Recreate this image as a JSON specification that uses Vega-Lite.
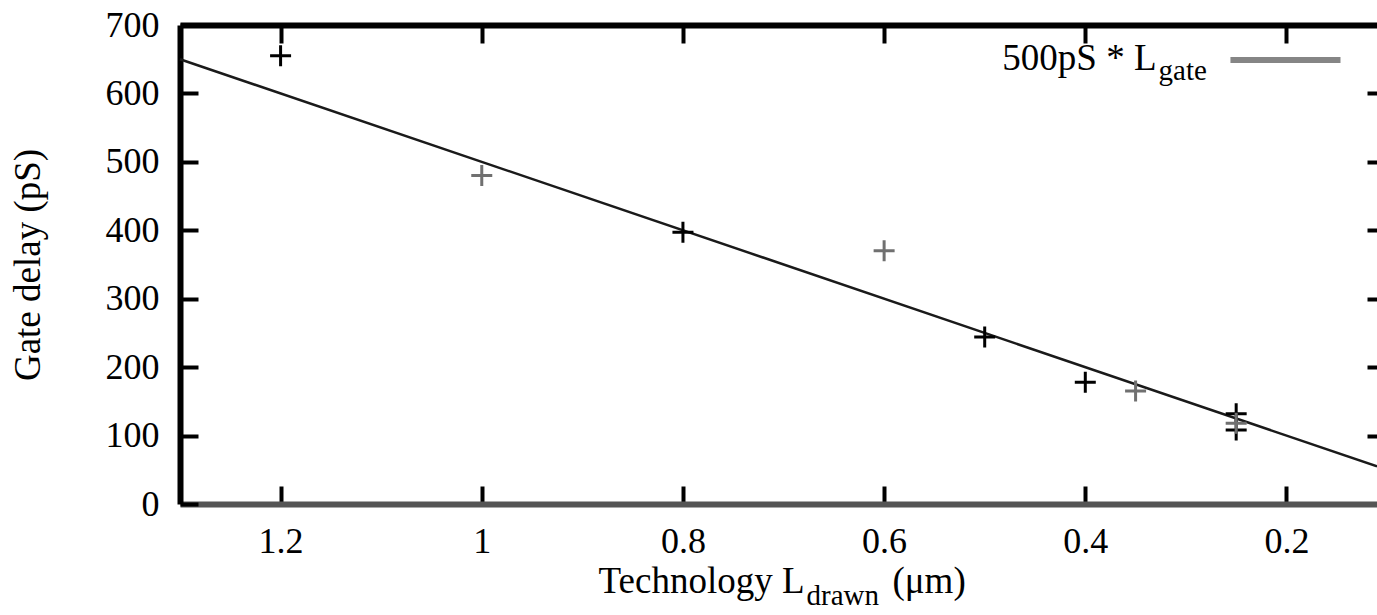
{
  "$schema": "https://vega.github.io/schema/vega-lite/v6.json",
  "width": 1197,
  "height": 479,
  "autosize": {"type": "none"},
  "padding": {"left": 180, "top": 25, "right": 0, "bottom": 111},
  "background": "white",
  "config": {"view": {"stroke": null}, "font": "Liberation Serif"},
  "datasets": {
    "points": [
      {"L": 1.2, "delay": 655, "series": "a"},
      {"L": 0.8, "delay": 397, "series": "a"},
      {"L": 0.5, "delay": 244, "series": "a"},
      {"L": 0.4, "delay": 178, "series": "a"},
      {"L": 0.25, "delay": 132, "series": "a"},
      {"L": 0.25, "delay": 108, "series": "a"},
      {"L": 1.0, "delay": 480, "series": "b"},
      {"L": 0.6, "delay": 370, "series": "b"},
      {"L": 0.35, "delay": 165, "series": "b"},
      {"L": 0.25, "delay": 118, "series": "b"}
    ],
    "fit": [
      {"L": 1.3, "delay": 650},
      {"L": 0.11, "delay": 55}
    ],
    "one": [{}]
  },
  "resolve": {"axis": {"x": "independent", "y": "independent"}},
  "layer": [
    {
      "data": {"name": "fit"},
      "mark": {"type": "line", "color": "#1a1a1a", "strokeWidth": 2.5},
      "encoding": {
        "x": {
          "field": "L", "type": "quantitative",
          "scale": {"domain": [0.11, 1.3], "reverse": true, "nice": false, "zero": false},
          "axis": {
            "orient": "bottom", "title": null, "grid": false,
            "values": [1.2, 1, 0.8, 0.6, 0.4, 0.2], "format": "~g",
            "tickSize": -18, "tickWidth": 4, "tickColor": "black",
            "domainColor": "#555555", "domainWidth": 6,
            "labelFont": "Liberation Serif", "labelFontSize": 36, "labelColor": "black",
            "labelPadding": 38, "labelFlush": false, "labelOverlap": false
          }
        },
        "y": {
          "field": "delay", "type": "quantitative",
          "scale": {"domain": [0, 700], "nice": false, "zero": false},
          "axis": {
            "orient": "left", "grid": false,
            "values": [0, 100, 200, 300, 400, 500, 600, 700], "format": "d",
            "tickSize": -18, "tickWidth": 4, "tickColor": "black",
            "domainColor": "black", "domainWidth": 6,
            "labelFont": "Liberation Serif", "labelFontSize": 36, "labelColor": "black",
            "labelPadding": 39, "labelFlush": false, "labelOverlap": false, "labelBaseline": "middle",
            "title": "Gate delay (pS)", "titleFont": "Liberation Serif", "titleFontSize": 37,
            "titleFontWeight": "normal", "titleColor": "black",
            "titleX": -141, "titleBaseline": "alphabetic"
          }
        }
      }
    },
    {
      "data": {"name": "points"},
      "mark": {"type": "point", "shape": "M-1,0L1,0M0,-1L0,1", "filled": false, "size": 441, "strokeWidth": 3, "opacity": 1},
      "encoding": {
        "x": {
          "field": "L", "type": "quantitative",
          "scale": {"domain": [0.11, 1.3], "reverse": true, "nice": false, "zero": false},
          "axis": {
            "orient": "top", "title": null, "grid": false, "labels": false,
            "values": [1.2, 1, 0.8, 0.6, 0.4, 0.2],
            "tickSize": -18, "tickWidth": 4, "tickColor": "black",
            "domainColor": "black", "domainWidth": 6
          }
        },
        "y": {
          "field": "delay", "type": "quantitative",
          "scale": {"domain": [0, 700], "nice": false, "zero": false},
          "axis": {
            "orient": "right", "title": null, "grid": false, "labels": false, "domain": false,
            "values": [100, 200, 300, 400, 500, 600],
            "tickSize": -10, "tickWidth": 4, "tickColor": "black"
          }
        },
        "color": {
          "field": "series", "type": "nominal",
          "scale": {"domain": ["a", "b"], "range": ["#000000", "#707070"]},
          "legend": null
        }
      }
    },
    {
      "data": {"name": "one"},
      "mark": {"type": "rule", "color": "#858585", "strokeWidth": 6},
      "encoding": {
        "x": {"datum": 0.2557, "type": "quantitative", "scale": {"domain": [0.11, 1.3], "reverse": true, "nice": false, "zero": false}, "axis": null},
        "x2": {"datum": 0.1463},
        "y": {"datum": 649, "type": "quantitative", "scale": {"domain": [0, 700], "nice": false, "zero": false}, "axis": null}
      }
    },
    {
      "data": {"name": "one"},
      "mark": {"type": "text", "text": "500pS * L", "align": "right", "baseline": "alphabetic", "font": "Liberation Serif", "fontSize": 37, "color": "black"},
      "encoding": {
        "x": {"datum": 0.3292, "type": "quantitative", "scale": {"domain": [0.11, 1.3], "reverse": true, "nice": false, "zero": false}, "axis": null},
        "y": {"datum": 634, "type": "quantitative", "scale": {"domain": [0, 700], "nice": false, "zero": false}, "axis": null}
      }
    },
    {
      "data": {"name": "one"},
      "mark": {"type": "text", "text": "gate", "align": "left", "baseline": "alphabetic", "font": "Liberation Serif", "fontSize": 29, "color": "black"},
      "encoding": {
        "x": {"datum": 0.3272, "type": "quantitative", "scale": {"domain": [0.11, 1.3], "reverse": true, "nice": false, "zero": false}, "axis": null},
        "y": {"datum": 620, "type": "quantitative", "scale": {"domain": [0, 700], "nice": false, "zero": false}, "axis": null}
      }
    },
    {
      "data": {"name": "one"},
      "mark": {"type": "text", "text": "Technology L", "align": "right", "baseline": "alphabetic", "font": "Liberation Serif", "fontSize": 37, "color": "black"},
      "encoding": {
        "x": {"datum": 0.6791, "type": "quantitative", "scale": {"domain": [0.11, 1.3], "reverse": true, "nice": false, "zero": false}, "axis": null},
        "y": {"datum": -130, "type": "quantitative", "scale": {"domain": [0, 700], "nice": false, "zero": false}, "axis": null}
      }
    },
    {
      "data": {"name": "one"},
      "mark": {"type": "text", "text": "drawn", "align": "left", "baseline": "alphabetic", "font": "Liberation Serif", "fontSize": 29, "color": "black"},
      "encoding": {
        "x": {"datum": 0.6771, "type": "quantitative", "scale": {"domain": [0.11, 1.3], "reverse": true, "nice": false, "zero": false}, "axis": null},
        "y": {"datum": -147, "type": "quantitative", "scale": {"domain": [0, 700], "nice": false, "zero": false}, "axis": null}
      }
    },
    {
      "data": {"name": "one"},
      "mark": {"type": "text", "text": "(μm)", "align": "left", "baseline": "alphabetic", "font": "Liberation Serif", "fontSize": 37, "color": "black"},
      "encoding": {
        "x": {"datum": 0.5917, "type": "quantitative", "scale": {"domain": [0.11, 1.3], "reverse": true, "nice": false, "zero": false}, "axis": null},
        "y": {"datum": -130, "type": "quantitative", "scale": {"domain": [0, 700], "nice": false, "zero": false}, "axis": null}
      }
    }
  ]
}
